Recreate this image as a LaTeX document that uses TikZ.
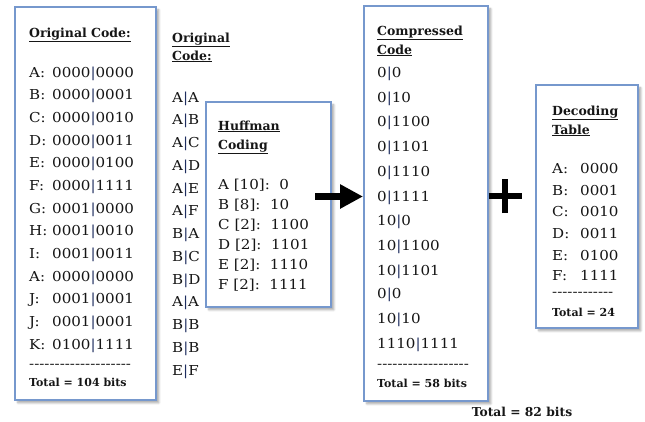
\documentclass[tikz,border=0pt]{standalone}
\usepackage{fontspec}
\setmainfont{DejaVu Serif}
\newfontfamily\bodyfont{DejaVu Serif}[FakeStretch=1.1]
\usetikzlibrary{arrows.meta,shadows.blur}
\definecolor{boxblue}{RGB}{118,152,205}
\definecolor{barblue}{RGB}{30,45,95}
\definecolor{ink}{RGB}{22,22,22}
\newcommand\vb{\textcolor{barblue}{|}}
\newcommand\lab[2][23pt]{\makebox[#1][l]{#2}}
% a row of separate hyphens (boxed so they never join into dashes)
\newcommand\hyphenrow[1]{\foreach \k in {1,...,#1}{\mbox{-}}}
\tikzset{
  panel/.style={draw=boxblue, line width=1.6pt, fill=white, anchor=north west, inner sep=0pt,
    blur shadow={shadow xshift=3pt, shadow yshift=-3pt, shadow opacity=35, shadow blur steps=6}},
  line/.style={anchor=base west, inner sep=0pt, text=ink, font=\bodyfont\fontsize{13.7}{16}\selectfont},
  head/.style={anchor=base west, inner sep=0pt, text=ink, font=\bfseries\fontsize{12.5}{15}\selectfont},
  total/.style={anchor=base west, inner sep=0pt, text=ink, font=\bfseries\fontsize{11}{13}\selectfont},
  bigarrow/.style={line width=6.5pt, -{Triangle[length=23pt,width=23pt]}},
  plusbar/.style={line width=6.5pt},
}
\begin{document}
\begin{tikzpicture}[x=1pt,y=-1pt]
\useasboundingbox (0,0) rectangle (645,421);

% panels
\node[panel, minimum width=141pt, minimum height=393pt] (orig) at (14,6) {};
\node[panel, minimum width=125pt, minimum height=205pt] (huff) at (205,101) {};
\node[panel, minimum width=124pt, minimum height=395pt] (comp) at (363,5) {};
\node[panel, minimum width=102pt, minimum height=243pt] (dec) at (535,84) {};

% original code, 8-bit pairs
\node[head] (oh) at (29,37) {\underline{Original Code:}};
\foreach \l/\a/\b [count=\i] in {A/0000/0000, B/0000/0001, C/0000/0010, D/0000/0011,
    E/0000/0100, F/0000/1111, G/0001/0000, H/0001/0010, I/0001/0011, A/0000/0000,
    J/0001/0001, J/0001/0001, K/0100/1111}
  \node[line, name=oc\i] at (29,{77+22.67*(\i-1)}) {\lab{\l:}\a\vb\b};
\node[line] (odash) at (29,368) {\hyphenrow{20}};
\node[total] (otot) at (29,386) {Total = 104 bits};

% original code, symbol pairs
\node[head] (sh1) at (172,42) {\underline{Original}};
\node[head] (sh2) at (172,60) {\underline{Code:}};
\foreach \a/\b [count=\i] in {A/A, A/B, A/C, A/D, A/E, A/F, B/A, B/C, B/D, A/A, B/B, B/B, E/F}
  \node[line, name=sp\i] at (172,{102+22.75*(\i-1)}) {\a\vb\b};

% huffman coding
\node[head] (hh1) at (218,130) {\underline{Huffman}};
\node[head] (hh2) at (218,149) {\underline{Coding}};
\foreach \t [count=\i] in {{A [10]:\ \ 0}, {B [8]:\ \ 10}, {C [2]:\ \ 1100},
    {D [2]:\ \ 1101}, {E [2]:\ \ 1110}, {F [2]:\ \ 1111}}
  \node[line, name=hc\i] at (218,{189+20*(\i-1)}) {\t};

% compressed code
\node[head] (ch1) at (377,35) {\underline{Compressed}};
\node[head] (ch2) at (377,54) {\underline{Code}};
\foreach \y/\a/\b [count=\i] in {77/0/0, 102/0/10, 126/0/1100, 151/0/1101, 176/0/1110,
    201/0/1111, 225/10/0, 250/10/1100, 275/10/1101, 298/0/0, 323/10/10, 348/1110/1111}
  \node[line, name=cc\i] at (377,\y) {\a\vb\b};
\node[line] (cdash) at (377,368) {\hyphenrow{18}};
\node[total] (ctot) at (377,387) {Total = 58 bits};

% decoding table
\node[head] (dh1) at (552,115) {\underline{Decoding}};
\node[head] (dh2) at (552,134) {\underline{Table}};
\foreach \y/\l/\c [count=\i] in {173/A/0000, 195/B/0001, 216/C/0010, 238/D/0011,
    260/E/0100, 280/F/1111}
  \node[line, name=dc\i] at (552,\y) {\lab[28pt]{\l:}\c};
\node[line] (ddash) at (552,296) {\hyphenrow{12}};
\node[total] (dtot) at (552,316) {Total = 24};

% grand total
\node[total, anchor=base, font=\bfseries\fontsize{12.3}{14}\selectfont] (gtot) at (522,416) {Total = 82 bits};

% arrow and plus
\coordinate (astart) at (315,196.5);
\draw[bigarrow] (astart) -- (comp.west |- astart);
\coordinate (plus) at (505,196);
\draw[plusbar] ([xshift=-16.5pt]plus) -- ([xshift=16.5pt]plus);
\draw[plusbar] ([yshift=-17pt]plus) -- ([yshift=17pt]plus);
\end{tikzpicture}
\end{document}
